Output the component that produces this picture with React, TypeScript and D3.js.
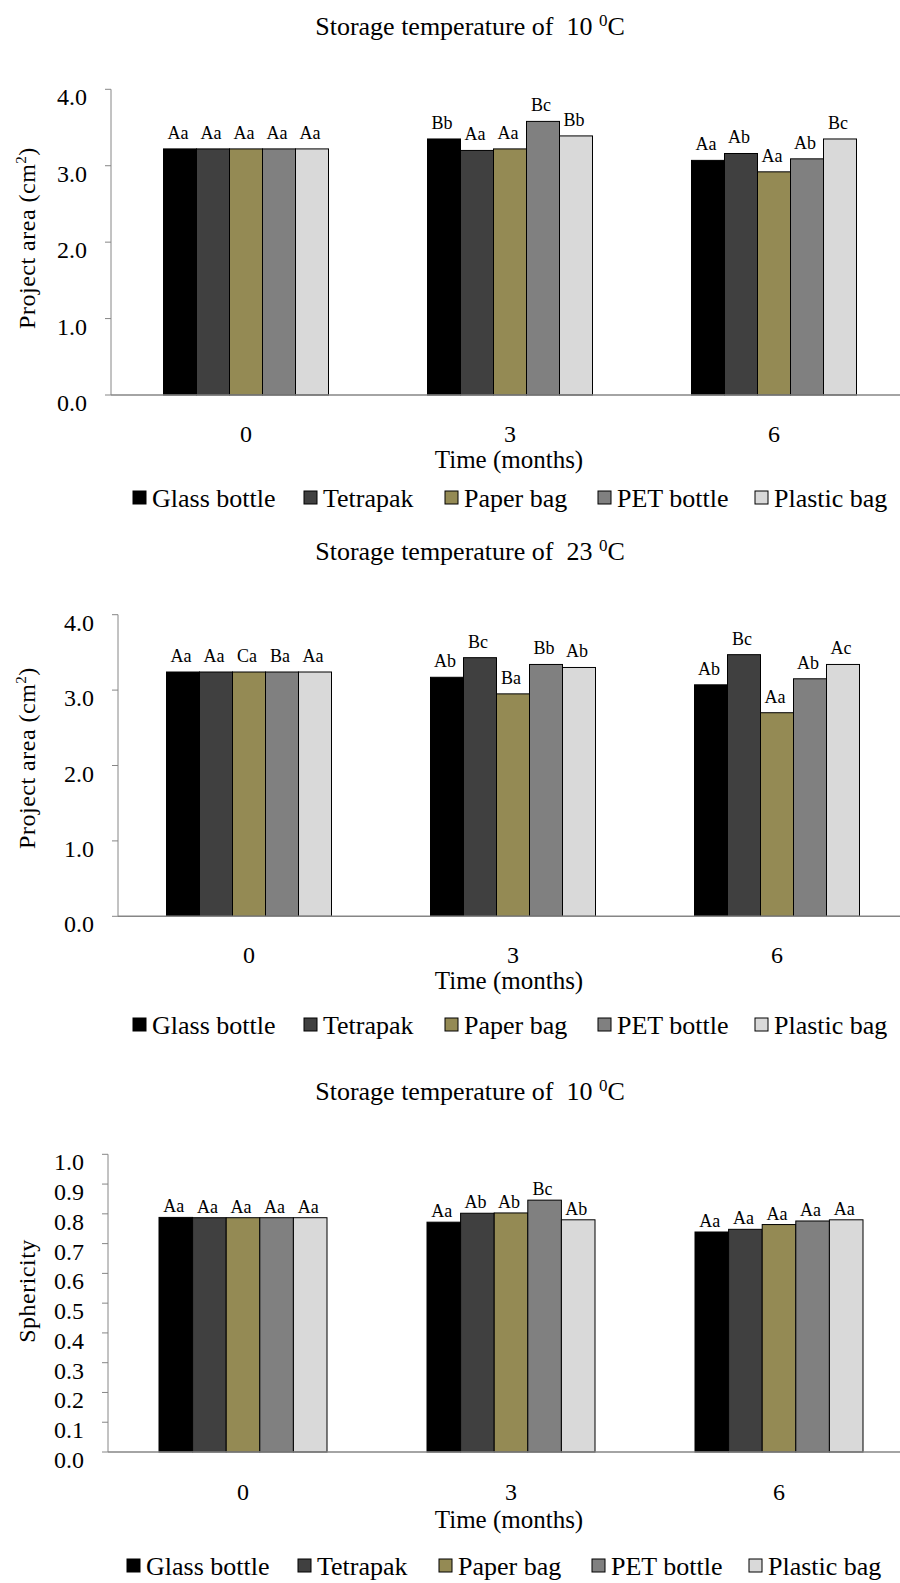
import * as d3 from "d3";
import { useEffect, useRef } from "react";

const months = ["0", "3", "6"];
const packages = ["Glass bottle", "Tetrapak", "Paper bag", "PET bottle", "Plastic bag"];
const packageColors = ["#000000", "#404040", "#948a54", "#808080", "#d9d9d9"];

// one row per storage month (0, 3, 6), one value per package
const area10 = [
  [3.22, 3.22, 3.22, 3.22, 3.22],
  [3.35, 3.2, 3.22, 3.58, 3.39],
  [3.07, 3.16, 2.92, 3.09, 3.35],
];
const area10Letters = [
  ["Aa", "Aa", "Aa", "Aa", "Aa"],
  ["Bb", "Aa", "Aa", "Bc", "Bb"],
  ["Aa", "Ab", "Aa", "Ab", "Bc"],
];

const area23 = [
  [3.24, 3.24, 3.24, 3.24, 3.24],
  [3.17, 3.43, 2.95, 3.34, 3.3],
  [3.07, 3.47, 2.7, 3.15, 3.34],
];
const area23Letters = [
  ["Aa", "Aa", "Ca", "Ba", "Aa"],
  ["Ab", "Bc", "Ba", "Bb", "Ab"],
  ["Ab", "Bc", "Aa", "Ab", "Ac"],
];

const sphericity10 = [
  [0.788, 0.787, 0.787, 0.787, 0.787],
  [0.772, 0.802, 0.803, 0.846, 0.78],
  [0.739, 0.748, 0.764, 0.776, 0.78],
];
const sphericity10Letters = [
  ["Aa", "Aa", "Aa", "Aa", "Aa"],
  ["Aa", "Ab", "Ab", "Bc", "Ab"],
  ["Aa", "Aa", "Aa", "Aa", "Aa"],
];

const areaTicks = [0, 1, 2, 3, 4];
const sphericityTicks = [0, 0.1, 0.2, 0.3, 0.4, 0.5, 0.6, 0.7, 0.8, 0.9, 1.0];

const FONT = "'Liberation Serif', 'Times New Roman', serif";

interface Panel {
  temp: string;
  yLabel: "area" | "sphericity";
  values: number[][];
  letters: string[][];
  ticks: number[];
  titleY: number;
  top: number;
  bottom: number;
  axisX: number;
  xRange: [number, number];
  groupWidth: number;
  labelGap: number;
  monthY: number;
  timeY: number;
  legendY: number;
  legendShift: number;
  yLabelY: number;
}

const panels: Panel[] = [
  {
    temp: "10", yLabel: "area", values: area10, letters: area10Letters, ticks: areaTicks,
    titleY: 35, top: 89.3, bottom: 395, axisX: 111, xRange: [114, 906], groupWidth: 165,
    labelGap: 10, monthY: 442, timeY: 468, legendY: 507, legendShift: 0, yLabelY: 238,
  },
  {
    temp: "23", yLabel: "area", values: area23, letters: area23Letters, ticks: areaTicks,
    titleY: 560, top: 614.7, bottom: 916.3, axisX: 118, xRange: [117, 909], groupWidth: 165,
    labelGap: 10, monthY: 963, timeY: 989, legendY: 1034, legendShift: 0, yLabelY: 758,
  },
  {
    temp: "10", yLabel: "sphericity", values: sphericity10, letters: sphericity10Letters,
    ticks: sphericityTicks, titleY: 1100, top: 1154.3, bottom: 1452, axisX: 108,
    xRange: [109, 913], groupWidth: 168, labelGap: 5, monthY: 1500, timeY: 1528,
    legendY: 1575, legendShift: -6, yLabelY: 1291,
  },
];

const legendX = [133, 304, 445, 598, 755];

function drawPanel(svg: d3.Selection<SVGSVGElement, unknown, null, undefined>, p: Panel) {
  const g = svg.append("g").style("font-family", FONT);

  // title
  const title = g
    .append("text")
    .attr("x", 470)
    .attr("y", p.titleY)
    .attr("text-anchor", "middle")
    .style("font-size", "26px");
  title.append("tspan").text(`Storage temperature of\u00a0\u00a0${p.temp}\u00a0`);
  title.append("tspan").attr("dy", -9).style("font-size", "17px").text("0");
  title.append("tspan").attr("dy", 9).text("C");

  const yMax = p.ticks[p.ticks.length - 1];
  const y = d3.scaleLinear().domain([0, yMax]).range([p.bottom, p.top]);

  const x0 = d3.scalePoint<string>().domain(months).range(p.xRange).padding(0.5);
  const x1 = d3
    .scaleBand<string>()
    .domain(packages)
    .range([-p.groupWidth / 2, p.groupWidth / 2]);

  // y axis (labels sit just below their tick, as in the original export)
  g.append("line")
    .attr("x1", p.axisX).attr("x2", p.axisX)
    .attr("y1", y(yMax)).attr("y2", y(0))
    .attr("stroke", "#868686").attr("stroke-width", 1);
  g.selectAll(".tick")
    .data(p.ticks)
    .join("line")
    .attr("x1", p.axisX - 6).attr("x2", p.axisX)
    .attr("y1", (d) => y(d)).attr("y2", (d) => y(d))
    .attr("stroke", "#868686");
  g.selectAll(".ticklabel")
    .data(p.ticks)
    .join("text")
    .attr("x", p.axisX - 24)
    .attr("y", (d) => y(d) + 16)
    .attr("text-anchor", "end")
    .style("font-size", "24px")
    .text((d) => d3.format(".1f")(d));

  // bars
  months.forEach((m, mi) => {
    const cx = x0(m) as number;
    packages.forEach((pk, pi) => {
      const v = p.values[mi][pi];
      const bx = cx + (x1(pk) as number);
      g.append("rect")
        .attr("x", bx)
        .attr("y", y(v))
        .attr("width", x1.bandwidth())
        .attr("height", y(0) - y(v))
        .attr("fill", packageColors[pi])
        .attr("stroke", "#000")
        .attr("stroke-width", 1);
      g.append("text")
        .attr("x", bx + x1.bandwidth() / 2 - 2)
        .attr("y", y(v) - p.labelGap)
        .attr("text-anchor", "middle")
        .style("font-size", "18px")
        .text(p.letters[mi][pi]);
    });
    g.append("text")
      .attr("x", cx)
      .attr("y", p.monthY)
      .attr("text-anchor", "middle")
      .style("font-size", "24px")
      .text(m);
  });

  // x axis line runs to the right edge
  g.append("line")
    .attr("x1", p.axisX).attr("x2", 900)
    .attr("y1", y(0)).attr("y2", y(0))
    .attr("stroke", "#868686").attr("stroke-width", 1.5);

  g.append("text")
    .attr("x", 509)
    .attr("y", p.timeY)
    .attr("text-anchor", "middle")
    .style("font-size", "25px")
    .text("Time (months)");

  // y label
  const yl = g
    .append("text")
    .attr("transform", `translate(35,${p.yLabelY}) rotate(-90)`)
    .attr("text-anchor", "middle")
    .style("font-size", "24px")
    .style("letter-spacing", "0.5px");
  if (p.yLabel === "area") {
    yl.append("tspan").text("Project area (cm");
    yl.append("tspan").attr("dy", -9).style("font-size", "15px").text("2");
    yl.append("tspan").attr("dy", 9).text(")");
  } else {
    yl.text("Sphericity");
  }

  // legend
  packages.forEach((pk, i) => {
    const lx = legendX[i] + p.legendShift;
    g.append("rect")
      .attr("x", lx)
      .attr("y", p.legendY - 16)
      .attr("width", 13)
      .attr("height", 13)
      .attr("fill", packageColors[i])
      .attr("stroke", "#000")
      .attr("stroke-width", 1);
    g.append("text")
      .attr("x", lx + 19)
      .attr("y", p.legendY)
      .style("font-size", "26px")
      .text(pk);
  });
}

export default function App() {
  const ref = useRef<SVGSVGElement | null>(null);

  useEffect(() => {
    const svg = d3.select(ref.current);
    svg.selectAll("*").remove();
    svg.attr("width", 900).attr("height", 1583);
    svg.append("rect").attr("width", 900).attr("height", 1583).attr("fill", "#fff");
    panels.forEach((p) => drawPanel(svg as any, p));
  }, []);

  return <svg ref={ref} style={{ position: "absolute", left: 0, top: 0 }}></svg>;
}
